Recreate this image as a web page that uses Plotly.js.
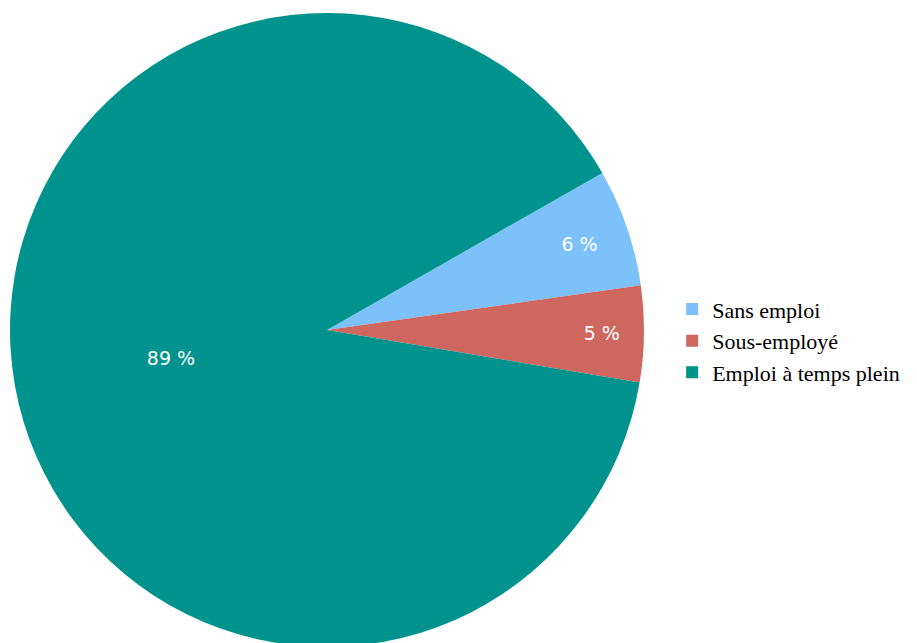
<!DOCTYPE html>
<html><head><meta charset="utf-8">
<script src="https://cdn.plot.ly/plotly-3.0.1.min.js"></script>
<style>html,body{margin:0;padding:0;overflow:hidden;background:#fff;}</style>
</head><body>
<div id="chart" style="width:917px;height:660px;"></div>
<script>
const categories = ["Sans emploi", "Sous-employé", "Emploi à temps plein"];
const values = [6.0, 4.9, 89.1];
const colors = ["#7CC1FA", "#CD675F", "#00938D"];

Plotly.newPlot('chart', [{
  type: 'pie',
  labels: categories,
  values: values,
  sort: false,
  direction: 'clockwise',
  rotation: 60.3,
  marker: {colors: colors, line: {width: 0}},
  textposition: 'inside',
  insidetextorientation: 'horizontal',
  texttemplate: '%{value:.0f} %',
  textfont: {family: 'DejaVu Sans, sans-serif', size: 19, color: '#ffffff'},
  hoverinfo: 'label+percent',
  domain: {x: [0, 654/917], y: [0, 1]}
}], {
  width: 917, height: 660,
  margin: {l: 0, r: 0, t: 13, b: 13},
  paper_bgcolor: '#ffffff',
  showlegend: true,
  legend: {
    x: 0.733, xanchor: 'left', y: 0.483, yanchor: 'middle',
    font: {family: 'Liberation Serif, Times New Roman, serif', size: 22, color: '#000'},
    itemwidth: 30
  }
}, {displayModeBar: false, staticPlot: true});
</script>
</body></html>
